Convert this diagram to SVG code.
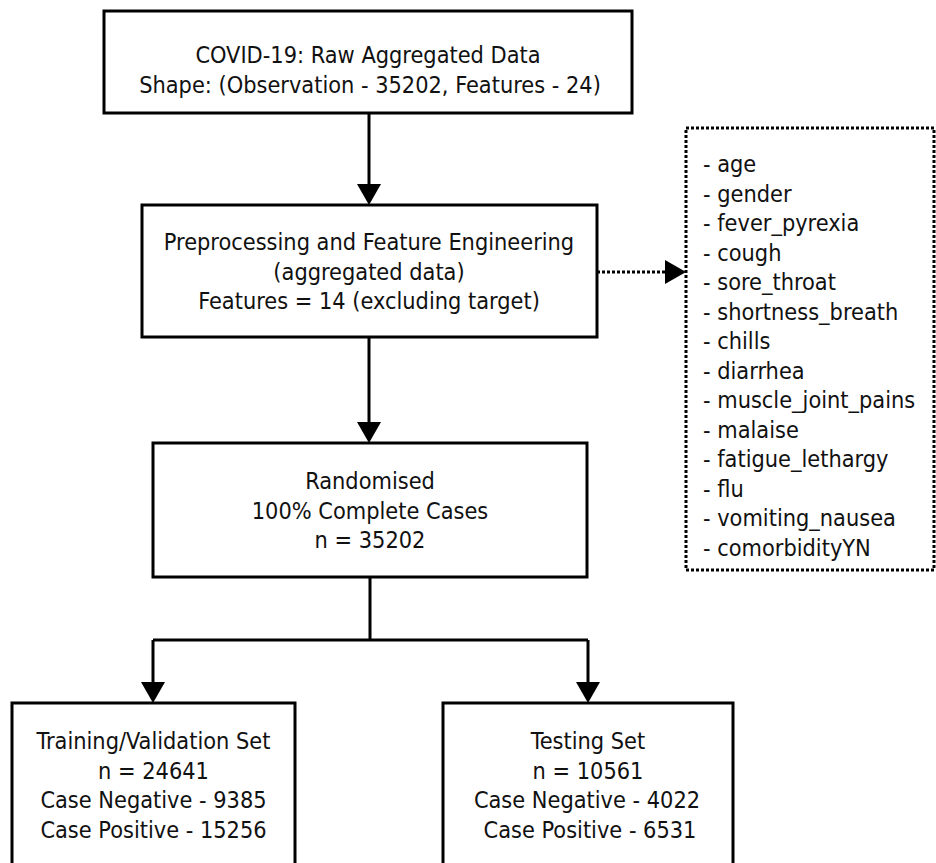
<svg xmlns="http://www.w3.org/2000/svg" width="936" height="863" viewBox="0 0 936 863">
  <defs>
    <style>
      .box { fill: #ffffff; stroke: #000000; stroke-width: 3; }
      .dotbox { fill: #ffffff; stroke: #000000; stroke-width: 3; stroke-dasharray: 3 2; }
      .conn { fill: none; stroke: #000000; stroke-width: 3; }
      .dotconn { fill: none; stroke: #000000; stroke-width: 3; stroke-dasharray: 3 2; }
      text { font-family: "DejaVu Sans Condensed", "DejaVu Sans", sans-serif; font-stretch: semi-condensed; font-size: 23.3px; fill: #111111; }
      .c { text-anchor: middle; }
    </style>
    <marker id="arrow" markerUnits="userSpaceOnUse" viewBox="0 0 21 24" markerWidth="21" markerHeight="24" refX="11" refY="12" orient="auto">
      <path d="M0,0 L21,12 L0,24 Z" fill="#000000"/>
    </marker>
  </defs>

  <g id="connectors">
    <path class="conn" d="M369,113 L369,195" marker-end="url(#arrow)"/>
    <path class="conn" d="M369,337 L369,433" marker-end="url(#arrow)"/>
    <path class="conn" d="M370,577 L370,640 M153,640 L588,640"/>
    <path class="conn" d="M153,640 L153,693" marker-end="url(#arrow)"/>
    <path class="conn" d="M588,640 L588,693" marker-end="url(#arrow)"/>
    <path class="dotconn" d="M597,272 L676,272" marker-end="url(#arrow)"/>
  </g>

  <g id="raw-data">
    <rect class="box" x="104" y="11" width="528" height="102"/>
    <text class="c" x="368" y="63">COVID-19: Raw Aggregated Data</text>
    <text class="c" x="370" y="93">Shape: (Observation - 35202, Features - 24)</text>
  </g>

  <g id="preprocessing">
    <rect class="box" x="142" y="205" width="455" height="132"/>
    <text class="c" x="369" y="250">Preprocessing and Feature Engineering</text>
    <text class="c" x="369" y="280">(aggregated data)</text>
    <text class="c" x="369" y="309">Features = 14 (excluding target)</text>
  </g>

  <g id="features-list">
    <rect class="dotbox" x="686" y="128" width="248" height="442"/>
    <text x="703" y="172">- age</text>
    <text x="703" y="201.5">- gender</text>
    <text x="703" y="231">- fever_pyrexia</text>
    <text x="703" y="260.5">- cough</text>
    <text x="703" y="290">- sore_throat</text>
    <text x="703" y="319.5">- shortness_breath</text>
    <text x="703" y="349">- chills</text>
    <text x="703" y="378.5">- diarrhea</text>
    <text x="703" y="408">- muscle_joint_pains</text>
    <text x="703" y="437.5">- malaise</text>
    <text x="703" y="467">- fatigue_lethargy</text>
    <text x="703" y="496.5">- flu</text>
    <text x="703" y="526">- vomiting_nausea</text>
    <text x="703" y="555.5">- comorbidityYN</text>
  </g>

  <g id="randomised">
    <rect class="box" x="153" y="443" width="434" height="134"/>
    <text class="c" x="370" y="489">Randomised</text>
    <text class="c" x="370" y="519">100% Complete Cases</text>
    <text class="c" x="370" y="548">n = 35202</text>
  </g>

  <g id="training-set">
    <rect class="box" x="12" y="703" width="283" height="170"/>
    <text class="c" x="153.5" y="749">Training/Validation Set</text>
    <text class="c" x="153.5" y="779">n = 24641</text>
    <text class="c" x="153.5" y="808">Case Negative - 9385</text>
    <text class="c" x="153.5" y="838">Case Positive - 15256</text>
  </g>

  <g id="testing-set">
    <rect class="box" x="443" y="703" width="290" height="170"/>
    <text class="c" x="588" y="749">Testing Set</text>
    <text class="c" x="588" y="779">n = 10561</text>
    <text class="c" x="587" y="808">Case Negative - 4022</text>
    <text class="c" x="590" y="838">Case Positive - 6531</text>
  </g>
</svg>
